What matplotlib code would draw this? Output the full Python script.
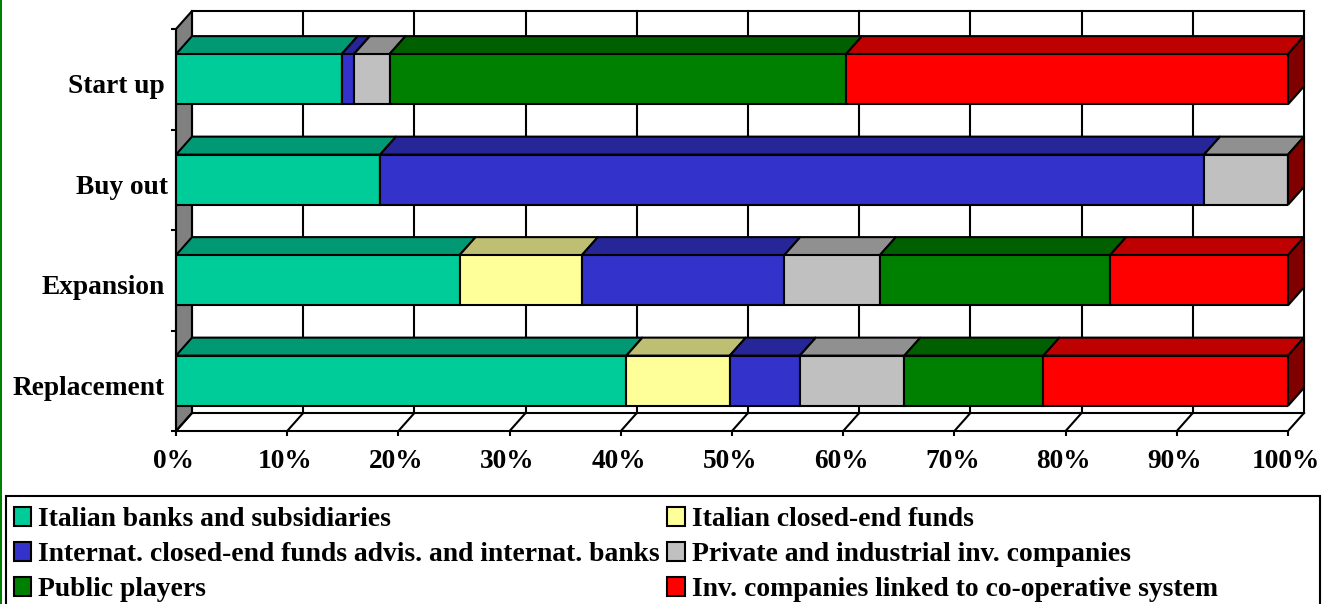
import numpy as np
import matplotlib
matplotlib.use("Agg")
import matplotlib.pyplot as plt
from matplotlib.patches import Polygon, Rectangle, Patch
from matplotlib.transforms import ScaledTranslation

categories = ["Start up", "Buy out", "Expansion", "Replacement"]
series_names = ["Italian banks and subsidiaries", "Italian closed-end funds",
                "Internat. closed-end funds advis. and internat. banks",
                "Private and industrial inv. companies", "Public players",
                "Inv. companies linked to co-operative system"]
italian_banks = [14.9, 18.35, 25.5, 40.5]
italian_funds = [0.0, 0.0, 11.0, 9.3]
internat_funds = [1.1, 74.1, 18.2, 6.3]
private_inv = [3.2, 7.55, 8.6, 9.4]
public_players = [41.05, 0.0, 20.7, 12.5]
coop_system = [39.75, 0.0, 16.0, 22.0]
series = [italian_banks, italian_funds, internat_funds, private_inv, public_players, coop_system]
front_colors = ["#00CC99", "#FFFF99", "#3333CC", "#C0C0C0", "#008000", "#FF0000"]
top_colors = ["#009973", "#BFBF73", "#262699", "#909090", "#006000", "#BF0000"]
side_color = "#800000"
x_ticks = list(range(0, 101, 10))

W, H = 1325, 604
LW = 1.5
FONT = "Liberation Serif"
FS = 19.7
FS_LEG = 19.9
fig = plt.figure(figsize=(W / 100, H / 100), dpi=100)
L, R, T, B = 176, 1288, 29, 431
ax = fig.add_axes([L / W, 1 - B / H, (R - L) / W, (B - T) / H])
ax.set_xlim(0, 100)
ax.set_ylim(3.5, -0.5)
dx = 16 * 100 / (R - L)
dy = 18 * 4 / (B - T)
ylo, yhi = 3.5, -0.5

# walls and floor
ax.add_patch(Polygon([(0, yhi), (dx, yhi - dy), (dx, ylo - dy), (0, ylo)], closed=True,
                     fc="#808080", ec="black", lw=LW, clip_on=False, zorder=1))
for v in x_ticks:
    ax.plot([v + dx, v + dx], [yhi - dy, ylo - dy], color="black", lw=LW, clip_on=False, zorder=1.5)
    ax.plot([v, v + dx], [ylo, ylo - dy], color="black", lw=LW, clip_on=False, zorder=1.5)
ax.plot([dx, 100 + dx], [yhi - dy, yhi - dy], color="black", lw=LW, clip_on=False, zorder=1.5)
ax.plot([dx, 100 + dx], [ylo - dy, ylo - dy], color="black", lw=LW, clip_on=False, zorder=1.5)

# bars
h = 0.5
ypos = np.arange(len(categories))
left = np.zeros(len(categories))
for vals, fc, tc in zip(series, front_colors, top_colors):
    vals = np.array(vals)
    ax.barh(ypos, vals, left=left, height=h, color=fc, edgecolor="black", linewidth=LW, zorder=3)
    for y, l, v in zip(ypos, left, vals):
        if v > 0:
            ax.add_patch(Polygon([(l, y - h / 2), (l + v, y - h / 2),
                                  (l + v + dx, y - h / 2 - dy), (l + dx, y - h / 2 - dy)],
                                 closed=True, fc=tc, ec="black", lw=LW, clip_on=False, zorder=2.5))
    left = left + vals
for y, tot in zip(ypos, left):
    ax.add_patch(Polygon([(tot, y - h / 2), (tot + dx, y - h / 2 - dy),
                          (tot + dx, y + h / 2 - dy), (tot, y + h / 2)],
                         closed=True, fc=side_color, ec="black", lw=LW, clip_on=False, zorder=2.6))

# axes
for s in ["top", "right"]:
    ax.spines[s].set_visible(False)
for s in ["left", "bottom"]:
    ax.spines[s].set_linewidth(LW)
    ax.spines[s].set_zorder(4)
ax.set_xticks(x_ticks)
ax.set_xticklabels([f"{v}%" for v in x_ticks], fontfamily=FONT, fontweight="bold", fontsize=FS)
ax.tick_params(axis="x", length=3.6, width=LW, pad=9.5)
ax.set_yticks(ypos)
ax.set_yticklabels(categories, fontfamily=FONT, fontweight="bold", fontsize=FS)
ax.tick_params(axis="y", which="major", length=0, pad=8.4)
ax.set_yticks(np.arange(-0.5, 4, 1), minor=True)
ax.tick_params(axis="y", which="minor", length=3.6, width=LW)
for i, lab in enumerate(ax.get_yticklabels()):
    shift = 4 if categories[i] == "Buy out" else 0
    lab.set_transform(lab.get_transform() + ScaledTranslation(shift / 100, -4.5 / 100, fig.dpi_scale_trans))
for lab in ax.get_xticklabels():
    lab.set_transform(lab.get_transform() + ScaledTranslation(-2 / 100, 0, fig.dpi_scale_trans))

# legend
fig.add_artist(Rectangle((6 / W, -0.02), (1320 - 6) / W, 1 - 496 / H + 0.02, transform=fig.transFigure,
                         fc="white", ec="black", lw=LW))
order = [0, 2, 4, 1, 3, 5]
handles = [Patch(fc=front_colors[i], ec="black", lw=LW) for i in order]
labels = [series_names[i] for i in order]
leg = fig.legend(handles, labels, ncol=2, loc="upper left", bbox_to_anchor=(13.5 / W, 1 - 507 / H),
                 frameon=False, prop={"family": FONT, "weight": "bold", "size": FS_LEG},
                 handlelength=0.65, handleheight=0.65, handletextpad=0.25, labelspacing=0.366,
                 columnspacing=0.25, borderpad=0, borderaxespad=0)

# outer edge stripe
fig.add_artist(Rectangle((0, 0), 1.5 / W, 1, transform=fig.transFigure, fc="#008000", ec="none"))

fig.savefig("out.png", dpi=100, facecolor="white")
